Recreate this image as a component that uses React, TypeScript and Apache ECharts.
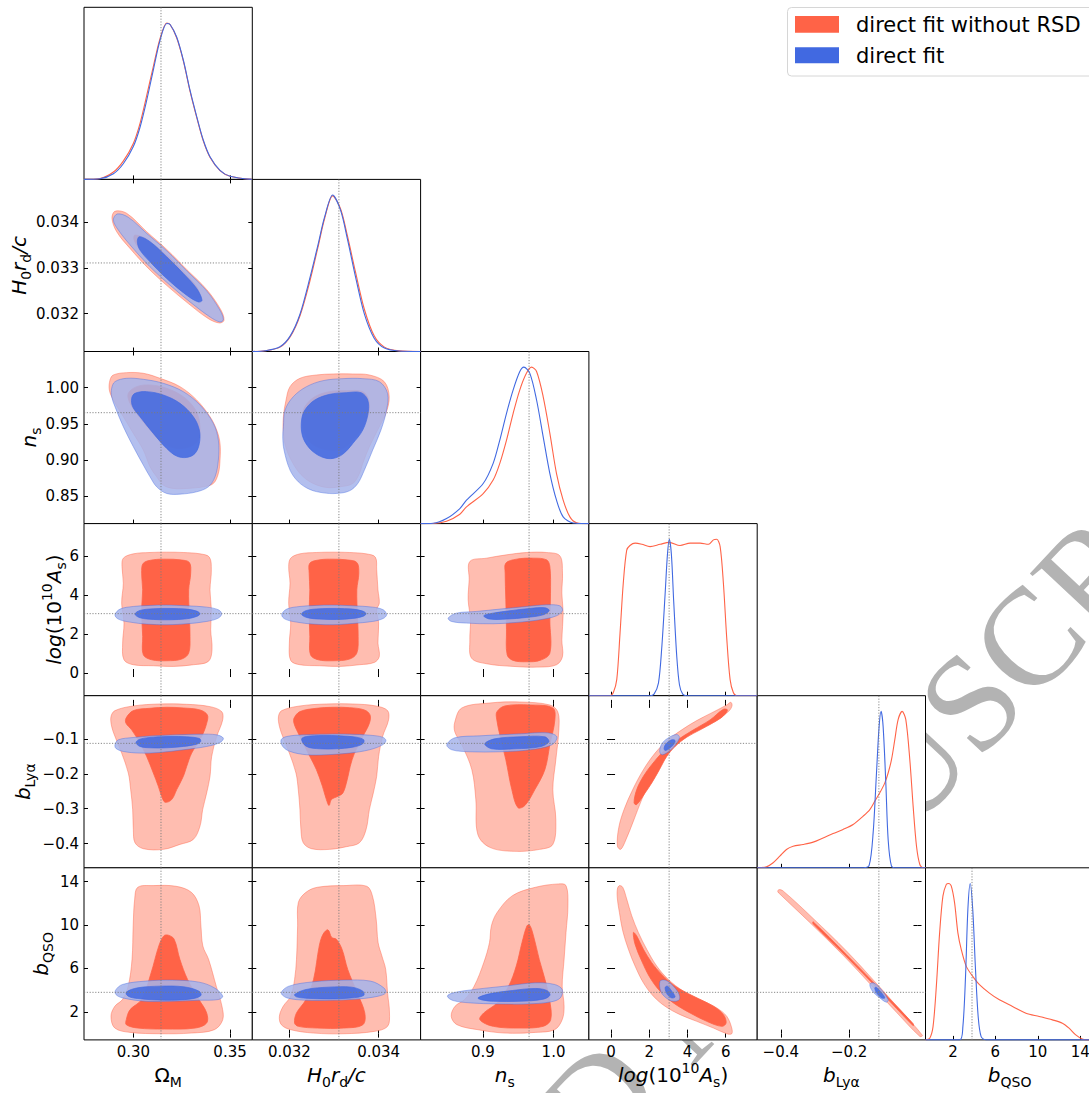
import React, { useEffect, useRef } from 'react';
import * as echarts from 'echarts';

type Pt = [number, number];

const FONT = 'DejaVu Sans';

// ---------- parameter axes (0: Ω_M, 1: H0 rd/c, 2: n_s, 3: log(10^10 A_s), 4: b_Lyα, 5: b_QSO)
const PARAM_MIN = [0.2745, 0.03117, 0.812, -1.16, -0.469, -0.58];
const PARAM_MAX = [0.3615, 0.03494, 1.05, 7.65, 0.0234, 15.27];
const FIDUCIAL = [0.3143, 0.03311, 0.9654, 3.04, -0.113, 3.8];
const DIAG_MAX = 1.1;

const X_TICKS_OM = [0.3, 0.35];
const X_LABELS_OM = ['0.30', '0.35'];
const X_TICKS_H = [0.032, 0.034];
const X_LABELS_H = ['0.032', '0.034'];
const X_TICKS_NS = [0.9, 1.0];
const X_LABELS_NS = ['0.9', '1.0'];
const X_TICKS_AS = [0, 2, 4, 6];
const X_LABELS_AS = ['0', '2', '4', '6'];
const X_TICKS_BL = [-0.4, -0.2];
const X_LABELS_BL = ['\u22120.4', '\u22120.2'];
const X_TICKS_BQ = [2, 6, 10, 14];
const X_LABELS_BQ = ['2', '6', '10', '14'];

const Y_TICKS_H = [0.032, 0.033, 0.034];
const Y_LABELS_H = ['0.032', '0.033', '0.034'];
const Y_TICKS_NS = [0.85, 0.9, 0.95, 1.0];
const Y_LABELS_NS = ['0.85', '0.90', '0.95', '1.00'];
const Y_TICKS_AS = [0, 2, 4, 6];
const Y_LABELS_AS = ['0', '2', '4', '6'];
const Y_TICKS_BL = [-0.4, -0.3, -0.2, -0.1];
const Y_LABELS_BL = ['\u22120.4', '\u22120.3', '\u22120.2', '\u22120.1'];
const Y_TICKS_BQ = [2, 6, 10, 14];
const Y_LABELS_BQ = ['2', '6', '10', '14'];

const AXIS_NAMES = [
  '{n|Ω}{sub|M}',
  '{i|H}{sub|0}{i|r}{sub|d}{i|/c}',
  '{i|n}{sub|s}',
  '{i|log}{n|(10}{sup|10}{i|A}{sub|s}{n|)}',
  '{i|b}{sub|Lyα}',
  '{i|b}{sub|QSO}',
];

const LEGEND_LABELS = ['direct fit without RSD', 'direct fit'];
const WATERMARK = 'ACCEPTED MANUSCRIPT';

// ---------- 1D marginals (normalised to peak = 1)
const OM_RED: Pt[] = [[0.2745, 0], [0.2828, 0.006], [0.2897, 0.047], [0.2948, 0.117], [0.3, 0.23], [0.3035, 0.36], [0.3069, 0.535], [0.3103, 0.72], [0.3138, 0.9], [0.3173, 1.0], [0.319, 0.99], [0.3224, 0.905], [0.3259, 0.755], [0.3293, 0.565], [0.3328, 0.395], [0.3362, 0.245], [0.3397, 0.14], [0.3448, 0.056], [0.35, 0.02], [0.3612, 0]];
const OM_BLUE: Pt[] = [[0.2745, 0], [0.2828, 0.004], [0.2897, 0.036], [0.2948, 0.1], [0.3, 0.21], [0.3035, 0.335], [0.3069, 0.505], [0.3103, 0.697], [0.3138, 0.889], [0.3173, 0.996], [0.319, 0.99], [0.3224, 0.91], [0.3259, 0.76], [0.3293, 0.57], [0.3328, 0.4], [0.3362, 0.25], [0.3397, 0.143], [0.3448, 0.058], [0.35, 0.02], [0.3612, 0]];

const H_RED: Pt[] = [[0.03117, 0], [0.03146, 0.005], [0.03179, 0.028], [0.03202, 0.095], [0.03224, 0.23], [0.03246, 0.45], [0.03264, 0.665], [0.03279, 0.85], [0.03297, 0.995], [0.03315, 0.91], [0.0333, 0.74], [0.03348, 0.51], [0.03368, 0.27], [0.0339, 0.1], [0.03413, 0.028], [0.03446, 0.004], [0.03494, 0]];
const H_BLUE: Pt[] = [[0.03117, 0], [0.03146, 0.005], [0.03179, 0.03], [0.03202, 0.1], [0.03224, 0.24], [0.03246, 0.47], [0.03264, 0.68], [0.03279, 0.86], [0.03297, 1.0], [0.03315, 0.9], [0.0333, 0.72], [0.03348, 0.48], [0.03368, 0.24], [0.0339, 0.085], [0.03413, 0.022], [0.03446, 0.003], [0.03494, 0]];

const NS_RED: Pt[] = [[0.812, 0], [0.8297, 0.001], [0.8487, 0.015], [0.8675, 0.06], [0.8769, 0.107], [0.9005, 0.192], [0.9146, 0.278], [0.924, 0.385], [0.9335, 0.534], [0.9429, 0.705], [0.9523, 0.855], [0.9618, 0.962], [0.9689, 1.0], [0.976, 0.972], [0.9853, 0.812], [0.9948, 0.577], [1.0042, 0.32], [1.0136, 0.15], [1.0231, 0.043], [1.0325, 0.006], [1.05, 0]];
const NS_BLUE: Pt[] = [[0.812, 0], [0.8297, 0.002], [0.8487, 0.032], [0.8675, 0.096], [0.8769, 0.15], [0.9005, 0.256], [0.9146, 0.385], [0.924, 0.534], [0.9335, 0.705], [0.9429, 0.855], [0.9523, 0.972], [0.958, 1.0], [0.9665, 0.96], [0.976, 0.79], [0.9853, 0.556], [0.9948, 0.32], [1.0042, 0.15], [1.0136, 0.043], [1.0278, 0.004], [1.05, 0]];

const AS_RED: Pt[] = [[-1.16, 0], [-0.05, 0], [0.12, 0.02], [0.3, 0.104], [0.47, 0.4], [0.64, 0.72], [0.82, 0.93], [0.99, 0.96], [1.26, 0.975], [1.61, 0.968], [2.04, 0.953], [2.57, 0.968], [3.05, 0.98], [3.61, 0.96], [4.14, 0.975], [4.66, 0.975], [5.1, 0.968], [5.36, 0.996], [5.53, 1.0], [5.71, 0.953], [5.88, 0.72], [6.06, 0.36], [6.23, 0.104], [6.4, 0.02], [6.58, 0], [7.65, 0]];
const AS_BLUE: Pt[] = [[-1.16, 0], [2.04, 0], [2.25, 0.01], [2.48, 0.08], [2.65, 0.3], [2.83, 0.65], [2.95, 0.9], [3.05, 1.0], [3.16, 0.9], [3.28, 0.6], [3.44, 0.25], [3.58, 0.07], [3.75, 0.01], [3.96, 0], [7.65, 0]];

const BL_RED: Pt[] = [[-0.469, 0], [-0.4419, 0.006], [-0.4224, 0.032], [-0.4029, 0.074], [-0.3834, 0.117], [-0.3639, 0.138], [-0.3347, 0.149], [-0.3054, 0.164], [-0.2762, 0.191], [-0.2469, 0.219], [-0.2177, 0.245], [-0.1884, 0.277], [-0.1591, 0.33], [-0.1395, 0.372], [-0.1249, 0.426], [-0.1103, 0.479], [-0.0956, 0.543], [-0.0859, 0.606], [-0.0761, 0.691], [-0.0664, 0.819], [-0.0567, 0.947], [-0.045, 1.0], [-0.0342, 0.947], [-0.0225, 0.691], [-0.0128, 0.394], [-0.0029, 0.138], [0.0068, 0.021], [0.0165, 0], [0.0234, 0]];
const BL_BLUE: Pt[] = [[-0.469, 0], [-0.1591, 0], [-0.1415, 0.015], [-0.1298, 0.223], [-0.12, 0.606], [-0.1123, 0.904], [-0.1065, 1.0], [-0.1006, 0.904], [-0.0927, 0.543], [-0.0859, 0.181], [-0.0761, 0.011], [-0.0614, 0], [0.0234, 0]];

const BQ_RED: Pt[] = [[-0.58, 0], [-0.18, 0.011], [0.13, 0.085], [0.44, 0.342], [0.75, 0.684], [1.06, 0.919], [1.38, 0.994], [1.6, 1.0], [1.85, 0.983], [2.16, 0.876], [2.47, 0.684], [2.79, 0.577], [3.26, 0.47], [3.87, 0.406], [4.5, 0.353], [5.44, 0.299], [6.38, 0.256], [7.62, 0.214], [8.88, 0.171], [10.13, 0.15], [11.37, 0.128], [12.31, 0.107], [12.94, 0.075], [13.57, 0.032], [14.18, 0.006], [14.72, 0], [15.27, 0]];
const BQ_BLUE: Pt[] = [[-0.58, 0], [2.63, 0], [2.94, 0.085], [3.19, 0.406], [3.41, 0.833], [3.63, 1.0], [3.87, 0.833], [4.13, 0.449], [4.38, 0.15], [4.66, 0.021], [5.13, 0], [15.27, 0]];

// ---------- 2D contours: [x, y] in data units. R2/R1 = red 95%/68%, B2/B1 = blue 95%/68%
const C10_R2: Pt[] = [[0.29052, 0.034242], [0.29655, 0.034198], [0.30689, 0.033795], [0.31724, 0.033407], [0.32758, 0.032967], [0.33792, 0.032527], [0.34516, 0.032088], [0.34688, 0.031853], [0.34447, 0.031795], [0.33878, 0.03189], [0.32844, 0.03222], [0.3181, 0.032586], [0.30776, 0.032989], [0.29828, 0.033428], [0.29138, 0.033795], [0.28897, 0.034088]];
const C10_R1: Pt[] = [[0.30086, 0.033722], [0.30689, 0.033626], [0.31724, 0.033282], [0.32585, 0.032916], [0.33275, 0.032586], [0.33447, 0.032366], [0.33275, 0.03233], [0.32672, 0.032454], [0.31724, 0.032806], [0.30862, 0.033172], [0.30259, 0.033451], [0.30034, 0.033626]];
const C10_B2: Pt[] = [[0.29173, 0.034183], [0.29741, 0.03411], [0.30689, 0.033758], [0.31724, 0.033377], [0.32758, 0.032938], [0.33792, 0.032498], [0.34481, 0.032073], [0.34654, 0.031868], [0.34481, 0.031817], [0.33964, 0.031927], [0.3293, 0.032256], [0.31896, 0.032623], [0.30862, 0.033026], [0.29914, 0.033465], [0.29224, 0.033832], [0.28966, 0.034051]];
const C10_B1: Pt[] = [[0.3031, 0.033685], [0.30862, 0.033575], [0.31724, 0.033245], [0.32585, 0.032879], [0.33275, 0.032549], [0.33551, 0.032293], [0.33361, 0.032256], [0.32758, 0.032403], [0.31724, 0.032769], [0.30862, 0.033136], [0.30345, 0.033392], [0.30207, 0.033575]];

const C20_R2: Pt[] = [[0.28966, 1.01754], [0.29655, 1.02078], [0.30517, 1.01985], [0.31379, 1.01293], [0.32413, 1.00139], [0.33275, 0.98292], [0.33964, 0.95983], [0.34309, 0.94137], [0.34481, 0.9229], [0.34481, 0.89982], [0.34395, 0.88135], [0.34137, 0.8675], [0.33619, 0.86288], [0.32758, 0.86057], [0.32068, 0.86057], [0.31551, 0.86519], [0.31206, 0.87673], [0.30862, 0.89058], [0.30517, 0.91367], [0.3, 0.93675], [0.29483, 0.95983], [0.28966, 0.98292], [0.28759, 0.99677], [0.28794, 1.01062]];
const C20_R1: Pt[] = [[0.29741, 0.99215], [0.30172, 1.00139], [0.30862, 1.00369], [0.31724, 0.99908], [0.32585, 0.98753], [0.33102, 0.97368], [0.33361, 0.95983], [0.33447, 0.94137], [0.33361, 0.92752], [0.3293, 0.91828], [0.32241, 0.91597], [0.31551, 0.9229], [0.30862, 0.94137], [0.30172, 0.96445], [0.29793, 0.98061]];
const C20_B2: Pt[] = [[0.2888, 0.99908], [0.29052, 1.00831], [0.29655, 1.01293], [0.30517, 1.01154], [0.31551, 1.006], [0.32585, 0.99446], [0.33447, 0.97599], [0.34137, 0.9506], [0.34395, 0.92752], [0.34395, 0.89982], [0.34223, 0.87673], [0.33878, 0.86288], [0.33275, 0.85596], [0.32413, 0.85272], [0.31724, 0.85365], [0.31206, 0.86288], [0.30862, 0.87673], [0.30517, 0.89289], [0.3, 0.91828], [0.29483, 0.94598], [0.29052, 0.97368], [0.2888, 0.98753]];
const C20_B1: Pt[] = [[0.29914, 0.98523], [0.30086, 0.99215], [0.30689, 0.99446], [0.31551, 0.98984], [0.32413, 0.9783], [0.33102, 0.95983], [0.33413, 0.94137], [0.33413, 0.9229], [0.33189, 0.90905], [0.32758, 0.90351], [0.32241, 0.90536], [0.31724, 0.91597], [0.31034, 0.93675], [0.30345, 0.95983], [0.29966, 0.97368]];

const C21_R2: Pt[] = [[0.032015, 1.00139], [0.032237, 1.01293], [0.032607, 1.01754], [0.032978, 1.01893], [0.033422, 1.01893], [0.033793, 1.01754], [0.034126, 1.00831], [0.034237, 0.98753], [0.034163, 0.96445], [0.034015, 0.94598], [0.033793, 0.91828], [0.033644, 0.8952], [0.03357, 0.88135], [0.033422, 0.8675], [0.033126, 0.86288], [0.03283, 0.86196], [0.032533, 0.8675], [0.032311, 0.87673], [0.032126, 0.89058], [0.031941, 0.91367], [0.031867, 0.93675], [0.031867, 0.95983], [0.031926, 0.98292]];
const C21_R1: Pt[] = [[0.032348, 0.97368], [0.03257, 0.98753], [0.032904, 0.99446], [0.033274, 0.99584], [0.033644, 0.99446], [0.033778, 0.98292], [0.033778, 0.96445], [0.033644, 0.94598], [0.033422, 0.92752], [0.0332, 0.91597], [0.032904, 0.91367], [0.032607, 0.91828], [0.032422, 0.92752], [0.032311, 0.94137], [0.032296, 0.95983]];
const C21_B2: Pt[] = [[0.031867, 0.94598], [0.031904, 0.96907], [0.032089, 0.98753], [0.032385, 1.00139], [0.032756, 1.0097], [0.0332, 1.01247], [0.033644, 1.01247], [0.034015, 1.00831], [0.034199, 0.99215], [0.034178, 0.96907], [0.034052, 0.94137], [0.033867, 0.91367], [0.033681, 0.88597], [0.033533, 0.8675], [0.033348, 0.85734], [0.033052, 0.85365], [0.032756, 0.85457], [0.032459, 0.85919], [0.0322, 0.86981], [0.032015, 0.88597], [0.031881, 0.91367], [0.031852, 0.93213]];
const C21_B1: Pt[] = [[0.032274, 0.95522], [0.032348, 0.96907], [0.03257, 0.98292], [0.032904, 0.99077], [0.033274, 0.99307], [0.033607, 0.99307], [0.033756, 0.98292], [0.033763, 0.96445], [0.033644, 0.94137], [0.033422, 0.9229], [0.0332, 0.90813], [0.032978, 0.90212], [0.032756, 0.90351], [0.032533, 0.91136], [0.03237, 0.9229], [0.032281, 0.93675]];

const C30_R2: Pt[] = [[0.29483, 5.881], [0.3, 6.102], [0.30862, 6.171], [0.31724, 6.188], [0.32585, 6.171], [0.33447, 6.102], [0.3393, 5.932], [0.34033, 5.284], [0.33964, 4.261], [0.34033, 3.238], [0.33999, 2.215], [0.34068, 1.192], [0.33878, 0.595], [0.33102, 0.425], [0.32068, 0.339], [0.31034, 0.373], [0.3, 0.425], [0.29517, 0.68], [0.29448, 1.533], [0.29517, 2.556], [0.29397, 3.579], [0.29483, 4.602], [0.29414, 5.454]];
const C30_R1: Pt[] = [[0.30517, 5.625], [0.31034, 5.795], [0.31724, 5.829], [0.32413, 5.795], [0.32896, 5.659], [0.32965, 5.113], [0.32861, 4.261], [0.32896, 2.897], [0.3293, 1.874], [0.32861, 1.021], [0.32499, 0.714], [0.31724, 0.629], [0.30948, 0.68], [0.30517, 0.936], [0.30483, 1.874], [0.30431, 3.238], [0.30483, 4.261], [0.30431, 5.113]];
const C30_B2: Pt[] = [[0.29052, 2.982], [0.29311, 3.272], [0.3, 3.408], [0.30862, 3.46], [0.31724, 3.477], [0.32758, 3.442], [0.33792, 3.374], [0.34395, 3.238], [0.34567, 3.033], [0.34395, 2.812], [0.33792, 2.641], [0.32758, 2.522], [0.31724, 2.471], [0.3069, 2.505], [0.29828, 2.607], [0.29224, 2.76]];
const C30_B1: Pt[] = [[0.30086, 3.016], [0.30345, 3.204], [0.31034, 3.289], [0.31896, 3.306], [0.32758, 3.272], [0.33275, 3.17], [0.33447, 3.033], [0.33275, 2.897], [0.32758, 2.778], [0.31896, 2.726], [0.31034, 2.743], [0.30345, 2.829]];

const C31_R2: Pt[] = [[0.03203, 5.881], [0.032237, 6.102], [0.032607, 6.171], [0.032978, 6.188], [0.033348, 6.171], [0.033719, 6.102], [0.033926, 5.932], [0.033956, 5.284], [0.033985, 4.261], [0.034015, 3.579], [0.033956, 3.238], [0.034, 2.556], [0.033985, 1.533], [0.034015, 0.851], [0.033904, 0.544], [0.03357, 0.425], [0.033126, 0.339], [0.032681, 0.373], [0.032237, 0.425], [0.03203, 0.646], [0.032, 1.533], [0.03203, 2.556], [0.031985, 3.579], [0.032015, 4.602], [0.031985, 5.454]];
const C31_R1: Pt[] = [[0.032459, 5.625], [0.032681, 5.795], [0.032978, 5.829], [0.033274, 5.795], [0.033511, 5.659], [0.033556, 5.113], [0.033511, 4.261], [0.033526, 2.897], [0.033541, 1.874], [0.033511, 1.021], [0.033348, 0.714], [0.032978, 0.629], [0.032644, 0.68], [0.032474, 0.936], [0.032459, 1.874], [0.032444, 3.238], [0.032459, 4.261], [0.032444, 5.113]];
const C31_B2: Pt[] = [[0.03183, 2.982], [0.031941, 3.272], [0.032237, 3.408], [0.032607, 3.46], [0.032978, 3.477], [0.033422, 3.442], [0.033867, 3.374], [0.034104, 3.238], [0.034178, 2.982], [0.034104, 2.795], [0.033867, 2.641], [0.033422, 2.539], [0.032978, 2.471], [0.032533, 2.505], [0.032163, 2.607], [0.031904, 2.76]];
const C31_B1: Pt[] = [[0.032274, 3.016], [0.032385, 3.204], [0.032681, 3.289], [0.033052, 3.306], [0.033422, 3.272], [0.033644, 3.17], [0.033719, 3.033], [0.033644, 2.897], [0.033422, 2.795], [0.033052, 2.743], [0.032681, 2.76], [0.032385, 2.846]];

const C32_R2: Pt[] = [[0.88161, 5.71], [0.90519, 5.881], [0.93347, 6.051], [0.96176, 6.171], [0.99005, 6.171], [1.00891, 6.0], [1.01268, 5.113], [1.01174, 4.09], [1.01362, 3.067], [1.01174, 1.703], [1.01268, 0.851], [1.0042, 0.425], [0.98062, 0.305], [0.9429, 0.339], [0.90519, 0.476], [0.88397, 0.766], [0.88161, 1.703], [0.88256, 2.726], [0.87926, 3.749], [0.88067, 4.772]];
const C32_R1: Pt[] = [[0.93253, 5.625], [0.94762, 5.829], [0.97119, 5.881], [0.99005, 5.795], [0.99477, 5.454], [0.99571, 4.09], [0.99477, 2.726], [0.99477, 1.021], [0.98062, 0.646], [0.96176, 0.578], [0.9429, 0.646], [0.93442, 0.936], [0.93347, 2.215], [0.93253, 3.749], [0.93159, 5.113]];
const C32_B2: Pt[] = [[0.85097, 2.812], [0.86275, 3.067], [0.89104, 3.153], [0.92404, 3.272], [0.96176, 3.408], [0.99005, 3.494], [1.00891, 3.442], [1.01268, 3.204], [1.0042, 2.931], [0.98062, 2.726], [0.94762, 2.59], [0.91462, 2.522], [0.8769, 2.556], [0.85568, 2.641]];
const C32_B1: Pt[] = [[0.90141, 2.931], [0.91462, 3.067], [0.93819, 3.187], [0.96648, 3.306], [0.98769, 3.34], [0.99382, 3.204], [0.98534, 2.982], [0.96176, 2.846], [0.93347, 2.761], [0.9099, 2.761]];

const C40_R2: Pt[] = [[0.28845, -0.03637], [0.29052, -0.01928], [0.3, -0.00598], [0.31379, -0.00028], [0.32758, -0.00123], [0.33964, -0.00788], [0.34567, -0.02213], [0.34619, -0.04587], [0.34309, -0.09335], [0.3405, -0.15033], [0.33964, -0.20731], [0.33792, -0.2548], [0.33585, -0.30228], [0.33447, -0.34976], [0.33102, -0.38775], [0.32413, -0.40199], [0.31551, -0.41624], [0.30517, -0.41434], [0.30086, -0.39725], [0.3, -0.35926], [0.29966, -0.30228], [0.29862, -0.2453], [0.29741, -0.19782], [0.29397, -0.14084], [0.29052, -0.09335], [0.2888, -0.06486]];
const C40_R1: Pt[] = [[0.29621, -0.04112], [0.3, -0.01928], [0.30862, -0.01263], [0.31724, -0.00978], [0.32585, -0.01168], [0.33447, -0.01738], [0.33826, -0.03162], [0.33792, -0.05537], [0.33533, -0.09335], [0.33016, -0.14084], [0.32758, -0.17882], [0.32585, -0.20731], [0.32241, -0.2453], [0.31982, -0.27379], [0.31637, -0.28139], [0.31465, -0.26429], [0.31293, -0.2358], [0.31034, -0.19782], [0.30689, -0.15033], [0.30345, -0.11235], [0.29914, -0.07436], [0.29621, -0.05537]];
const C40_B2: Pt[] = [[0.29052, -0.11709], [0.29224, -0.10285], [0.3, -0.0962], [0.31034, -0.09145], [0.32241, -0.0886], [0.33447, -0.0867], [0.34309, -0.0886], [0.34654, -0.0981], [0.34481, -0.11045], [0.33792, -0.12184], [0.32585, -0.13134], [0.31379, -0.13894], [0.30345, -0.14084], [0.29483, -0.13609], [0.29104, -0.12754]];
const C40_B1: Pt[] = [[0.30138, -0.11045], [0.30345, -0.10095], [0.31034, -0.09525], [0.31896, -0.09335], [0.32758, -0.0943], [0.33413, -0.09905], [0.33482, -0.1076], [0.33275, -0.1152], [0.32585, -0.12184], [0.31724, -0.12564], [0.30862, -0.12564], [0.30345, -0.12184]];

const C41_R2: Pt[] = [[0.031756, -0.03637], [0.03183, -0.01928], [0.032237, -0.00598], [0.03283, -0.00028], [0.033422, -0.00028], [0.033941, -0.00598], [0.0342, -0.01928], [0.034222, -0.04587], [0.034089, -0.09335], [0.034, -0.15033], [0.033956, -0.20731], [0.033881, -0.2548], [0.033793, -0.30228], [0.033719, -0.35926], [0.03357, -0.39725], [0.033274, -0.40864], [0.032904, -0.41624], [0.032496, -0.41434], [0.032311, -0.39725], [0.032259, -0.35926], [0.032237, -0.30228], [0.0322, -0.2453], [0.032148, -0.19782], [0.032, -0.14084], [0.031852, -0.09335], [0.031778, -0.06486]];
const C41_R1: Pt[] = [[0.032104, -0.04112], [0.032237, -0.02213], [0.032607, -0.01263], [0.032978, -0.00978], [0.033348, -0.01073], [0.033681, -0.01738], [0.033807, -0.03162], [0.033793, -0.05537], [0.033644, -0.09335], [0.033459, -0.14084], [0.033363, -0.17882], [0.033296, -0.21681], [0.0332, -0.2548], [0.033089, -0.26429], [0.032941, -0.27379], [0.032889, -0.29088], [0.03283, -0.27379], [0.032741, -0.2358], [0.032607, -0.18832], [0.032459, -0.15033], [0.032311, -0.11235], [0.032163, -0.07436], [0.032104, -0.05537]];
const C41_B2: Pt[] = [[0.031815, -0.10285], [0.031941, -0.09335], [0.032311, -0.0886], [0.03283, -0.0867], [0.033348, -0.0867], [0.033793, -0.08955], [0.034089, -0.09525], [0.034163, -0.10475], [0.034089, -0.11709], [0.033793, -0.13134], [0.033348, -0.14084], [0.03283, -0.14558], [0.032385, -0.14558], [0.032015, -0.13609], [0.031852, -0.12184]];
const C41_B1: Pt[] = [[0.032274, -0.1009], [0.032385, -0.09335], [0.032756, -0.0905], [0.033126, -0.09145], [0.033496, -0.09525], [0.033667, -0.10285], [0.033644, -0.11425], [0.033422, -0.12374], [0.033052, -0.12849], [0.032681, -0.12849], [0.032385, -0.12184]];

const C42_R2: Pt[] = [[0.8604, -0.05157], [0.8703, -0.01168], [0.9099, 0.00256], [0.95233, 0.00541], [0.99477, -0.00313], [1.00608, -0.02308], [1.0075, -0.07436], [1.00325, -0.15983], [0.99901, -0.2453], [1.00325, -0.33077], [0.99901, -0.40199], [0.98062, -0.41624], [0.94526, -0.42194], [0.9099, -0.41054], [0.89293, -0.3735], [0.8901, -0.27379], [0.88444, -0.18832], [0.8703, -0.11709], [0.8604, -0.08006]];
const C42_R1: Pt[] = [[0.9198, -0.02308], [0.93112, -0.00598], [0.96648, -0.00313], [0.99901, -0.01168], [1.00184, -0.04587], [0.99477, -0.11709], [0.98769, -0.18832], [0.97355, -0.2453], [0.95941, -0.29088], [0.9495, -0.29658], [0.94102, -0.2453], [0.93253, -0.15983], [0.92405, -0.0886], [0.9198, -0.04587]];
const C42_B2: Pt[] = [[0.84908, -0.11709], [0.8604, -0.09715], [0.89576, -0.09145], [0.95233, -0.08575], [0.99194, -0.08291], [1.00467, -0.0943], [0.99759, -0.11709], [0.96648, -0.13134], [0.92405, -0.13704], [0.88161, -0.13704], [0.85615, -0.13134]];
const C42_B1: Pt[] = [[0.90283, -0.11425], [0.91697, -0.1], [0.95233, -0.0943], [0.98769, -0.0943], [0.99335, -0.10855], [0.98062, -0.12279], [0.94526, -0.12849], [0.91273, -0.12849]];

const C43_R2: Pt[] = [[0.3316, -0.40674], [0.4014, -0.35451], [0.6806, -0.30228], [1.1344, -0.2453], [1.6928, -0.18832], [2.3037, -0.14084], [2.9494, -0.10475], [3.6998, -0.07436], [4.4852, -0.04777], [5.3578, -0.02308], [6.0558, -0.00313], [6.2653, 0.00446], [6.3351, -0.00408], [6.1955, -0.01928], [5.7941, -0.03637], [5.445, -0.05062], [4.8342, -0.06486], [4.1361, -0.08386], [3.5253, -0.10475], [3.0017, -0.13324], [2.5654, -0.16933], [2.0768, -0.21681], [1.6056, -0.27379], [1.1693, -0.33552], [0.7853, -0.38775], [0.5061, -0.41624]];
const C43_R1: Pt[] = [[1.2042, -0.28328], [1.3438, -0.2453], [1.6928, -0.20731], [2.1291, -0.17407], [2.74, -0.13609], [3.438, -0.10475], [4.3106, -0.07436], [5.1832, -0.04587], [5.8813, -0.01548], [6.0908, -0.01738], [5.8813, -0.03447], [5.3578, -0.05347], [4.6597, -0.07436], [3.9616, -0.09525], [3.3508, -0.12184], [2.9145, -0.15033], [2.5305, -0.18832], [2.1291, -0.2263], [1.7801, -0.2548], [1.3438, -0.28803]];
const C43_B2: Pt[] = [[2.5654, -0.12659], [2.7051, -0.11045], [3.0541, -0.09525], [3.438, -0.08765], [3.5777, -0.09525], [3.438, -0.11235], [3.089, -0.13324], [2.7051, -0.14558], [2.5654, -0.14084]];
const C43_B1: Pt[] = [[2.7749, -0.12659], [2.8796, -0.11425], [3.1763, -0.10285], [3.3508, -0.10475], [3.2635, -0.11709], [3.0017, -0.12944], [2.8272, -0.13324]];

const C50_R2: Pt[] = [[0.28845, 1.5926], [0.29043, 2.5185], [0.29438, 3.1358], [0.29735, 4.3704], [0.29933, 6.8395], [0.29992, 9.9259], [0.30071, 12.395], [0.30229, 13.475], [0.31021, 13.63], [0.32208, 13.568], [0.33, 13.012], [0.33395, 11.778], [0.33494, 9.9259], [0.33593, 8.0741], [0.3389, 6.8395], [0.34286, 4.3704], [0.34582, 2.5185], [0.34622, 1.284], [0.34187, 0.358], [0.33, 0.0494], [0.31417, -0.0123], [0.29834, 0.1111], [0.29043, 0.5123]];
const C50_R1: Pt[] = [[0.29636, 1.284], [0.29834, 2.2099], [0.30427, 3.1358], [0.30922, 5.6049], [0.31318, 8.0741], [0.31575, 9.0], [0.31812, 9.0617], [0.3211, 8.6914], [0.32406, 6.8395], [0.32802, 4.9877], [0.33395, 3.1358], [0.33791, 1.9012], [0.33791, 0.9753], [0.33198, 0.5123], [0.31615, 0.4198], [0.30229, 0.5123], [0.29636, 0.821]];
const C50_B2: Pt[] = [[0.29082, 4.0], [0.29438, 4.5247], [0.30625, 4.8333], [0.3201, 4.9259], [0.33395, 4.7407], [0.34187, 4.216], [0.34622, 3.4444], [0.34385, 3.1358], [0.33395, 3.0741], [0.3201, 2.9815], [0.30625, 2.9815], [0.29438, 3.2901], [0.29102, 3.5988]];
const C50_B1: Pt[] = [[0.29636, 3.8148], [0.30229, 4.216], [0.31417, 4.3704], [0.32604, 4.3086], [0.33395, 3.9074], [0.33494, 3.5062], [0.33, 3.1975], [0.31615, 3.0741], [0.30229, 3.2284], [0.29735, 3.4444]];

const C51_R2: Pt[] = [[0.031777, 1.5926], [0.031862, 2.5185], [0.032032, 3.4444], [0.032117, 4.9877], [0.03216, 6.8395], [0.032185, 9.9259], [0.032202, 12.086], [0.032372, 13.012], [0.032627, 13.475], [0.033222, 13.63], [0.033733, 13.568], [0.03386, 12.704], [0.033945, 10.543], [0.033988, 8.3827], [0.034073, 7.1481], [0.034158, 5.9136], [0.0342, 3.7531], [0.034243, 1.9012], [0.0342, 0.6667], [0.033903, 0.2037], [0.033222, -0.0123], [0.032542, 0.0494], [0.032032, 0.358], [0.03182, 0.821]];
const C51_R1: Pt[] = [[0.032117, 0.9753], [0.03216, 1.9012], [0.032372, 3.1358], [0.032542, 4.9877], [0.03267, 8.0741], [0.032755, 9.1543], [0.032865, 9.5556], [0.03295, 8.8457], [0.033052, 8.6914], [0.03318, 7.7654], [0.033307, 5.9136], [0.033519, 3.7531], [0.033689, 1.9012], [0.033647, 0.821], [0.033222, 0.5123], [0.032627, 0.5123], [0.032202, 0.6667]];
const C51_B2: Pt[] = [[0.03182, 3.7531], [0.03199, 4.3704], [0.032542, 4.7716], [0.033222, 4.9259], [0.033818, 4.8333], [0.034115, 4.216], [0.034158, 3.7531], [0.033988, 3.4444], [0.033562, 3.1975], [0.032967, 3.0741], [0.032372, 3.0741], [0.031947, 3.2901]];
const C51_B1: Pt[] = [[0.032117, 3.5988], [0.032372, 4.0617], [0.032882, 4.2778], [0.033392, 4.2778], [0.033647, 3.9074], [0.033664, 3.5062], [0.033392, 3.2901], [0.032882, 3.1975], [0.032372, 3.2593], [0.03216, 3.3827]];

const C52_R2: Pt[] = [[0.8553, 1.5926], [0.86071, 2.5185], [0.87424, 3.1358], [0.88777, 4.3704], [0.9013, 6.5309], [0.90942, 8.3827], [0.91212, 9.9259], [0.92024, 11.16], [0.94188, 12.704], [0.97435, 13.475], [1.00682, 13.784], [1.01764, 13.63], [1.02035, 11.778], [1.01764, 9.3086], [1.01494, 6.8395], [1.01223, 4.3704], [1.01494, 2.5185], [1.01223, 1.284], [1.00141, 0.358], [0.97435, 0.1111], [0.93106, 0.0494], [0.89318, 0.358], [0.86342, 0.821]];
const C52_R1: Pt[] = [[0.89589, 1.284], [0.9013, 1.9012], [0.92024, 2.8272], [0.93647, 4.3704], [0.94729, 6.2222], [0.95541, 8.3827], [0.96245, 9.9259], [0.96623, 9.9877], [0.97165, 9.0], [0.97976, 6.8395], [0.98788, 4.9877], [0.99437, 3.1358], [0.99599, 1.284], [0.98517, 0.6667], [0.9527, 0.5123], [0.91483, 0.6667]];
const C52_B2: Pt[] = [[0.8499, 3.4444], [0.85801, 3.7531], [0.88777, 4.0617], [0.93106, 4.3704], [0.97435, 4.679], [1.00141, 4.5247], [1.01223, 4.0617], [1.00953, 3.2901], [0.99599, 2.9198], [0.96353, 2.7346], [0.92024, 2.7346], [0.88236, 2.8272], [0.85801, 3.0432]];
const C52_B1: Pt[] = [[0.89318, 3.2901], [0.90942, 3.6605], [0.94188, 3.9691], [0.97435, 4.1543], [0.99058, 3.9691], [0.99491, 3.537], [0.98517, 3.1667], [0.9527, 2.9815], [0.91483, 2.9815], [0.89859, 3.1049]];

const C53_R2: Pt[] = [[0.3316, 13.321], [0.4363, 13.63], [0.6108, 13.475], [0.8202, 12.395], [1.082, 10.852], [1.4311, 9.3086], [1.8674, 7.7654], [2.3909, 6.2222], [3.0017, 4.9877], [3.7871, 3.9074], [4.6597, 3.1358], [5.5323, 2.3642], [6.0558, 1.5926], [6.3176, 0.5123], [6.3176, -0.0123], [6.0558, -0.0123], [5.3578, 0.5123], [4.4852, 1.1296], [3.6126, 1.7469], [2.8272, 2.5185], [2.2164, 3.4444], [1.6928, 4.679], [1.2565, 6.2222], [0.9075, 7.7654], [0.6108, 9.463], [0.4363, 11.16], [0.3316, 12.395]];
const C53_R1: Pt[] = [[1.1693, 9.3086], [1.3438, 9.0], [1.6928, 7.7654], [2.1291, 6.5309], [2.6527, 5.4506], [3.3508, 4.3704], [4.3106, 3.4444], [5.3578, 2.5185], [5.8813, 1.7469], [6.0209, 0.9753], [5.7941, 0.6667], [5.0087, 1.1296], [4.1361, 1.9012], [3.2635, 2.8272], [2.5654, 3.9074], [2.0419, 5.142], [1.6056, 6.6852], [1.2565, 8.2284]];
const C53_B2: Pt[] = [[2.5654, 4.8333], [2.8272, 4.9259], [3.1763, 4.5247], [3.5253, 3.7531], [3.5777, 3.1358], [3.2635, 2.9815], [2.8796, 3.2901], [2.6003, 3.9074]];
const C53_B1: Pt[] = [[2.8272, 4.216], [2.9494, 4.3704], [3.1763, 3.9074], [3.3508, 3.3827], [3.1763, 3.2901], [2.9494, 3.5988]];

const C54_R2: Pt[] = [[-0.40585, 13.259], [-0.39317, 13.136], [-0.30538, 10.605], [-0.20783, 7.6111], [-0.12003, 4.6173], [-0.05175, 2.2099], [0.01459, -0.1667], [0.00679, -0.2593], [-0.0615, 1.963], [-0.12979, 4.2778], [-0.21758, 7.2099], [-0.31513, 10.235], [-0.40293, 12.858], [-0.40878, 13.074]];
const C54_R1: Pt[] = [[-0.30538, 10.296], [-0.20783, 7.2716], [-0.11028, 4.1235], [-0.01273, 0.9136], [-0.01273, 0.7284], [-0.11028, 3.9383], [-0.20783, 7.0864], [-0.30538, 10.111]];
const C54_B2: Pt[] = [[-0.13954, 4.5247], [-0.12979, 4.679], [-0.11028, 4.216], [-0.08589, 3.1358], [-0.09077, 2.8889], [-0.11028, 3.2901], [-0.13174, 3.9074]];
const C54_B1: Pt[] = [[-0.12491, 4.216], [-0.12003, 4.2469], [-0.1054, 3.7531], [-0.09565, 3.2901], [-0.1054, 3.2901], [-0.12003, 3.7531]];

// ---------- tables built from the arrays above
const X_TICKS = [X_TICKS_OM, X_TICKS_H, X_TICKS_NS, X_TICKS_AS, X_TICKS_BL, X_TICKS_BQ];
const X_LABELS = [X_LABELS_OM, X_LABELS_H, X_LABELS_NS, X_LABELS_AS, X_LABELS_BL, X_LABELS_BQ];
const Y_TICKS = [[], Y_TICKS_H, Y_TICKS_NS, Y_TICKS_AS, Y_TICKS_BL, Y_TICKS_BQ];
const Y_LABELS = [[], Y_LABELS_H, Y_LABELS_NS, Y_LABELS_AS, Y_LABELS_BL, Y_LABELS_BQ];

const PANELS_1D = [
  { red: OM_RED, blue: OM_BLUE },
  { red: H_RED, blue: H_BLUE },
  { red: NS_RED, blue: NS_BLUE },
  { red: AS_RED, blue: AS_BLUE },
  { red: BL_RED, blue: BL_BLUE },
  { red: BQ_RED, blue: BQ_BLUE },
];

const PANELS_2D: Record<string, Pt[][]> = {
  '1-0': [C10_R2, C10_R1, C10_B2, C10_B1],
  '2-0': [C20_R2, C20_R1, C20_B2, C20_B1],
  '2-1': [C21_R2, C21_R1, C21_B2, C21_B1],
  '3-0': [C30_R2, C30_R1, C30_B2, C30_B1],
  '3-1': [C31_R2, C31_R1, C31_B2, C31_B1],
  '3-2': [C32_R2, C32_R1, C32_B2, C32_B1],
  '4-0': [C40_R2, C40_R1, C40_B2, C40_B1],
  '4-1': [C41_R2, C41_R1, C41_B2, C41_B1],
  '4-2': [C42_R2, C42_R1, C42_B2, C42_B1],
  '4-3': [C43_R2, C43_R1, C43_B2, C43_B1],
  '5-0': [C50_R2, C50_R1, C50_B2, C50_B1],
  '5-1': [C51_R2, C51_R1, C51_B2, C51_B1],
  '5-2': [C52_R2, C52_R1, C52_B2, C52_B1],
  '5-3': [C53_R2, C53_R1, C53_B2, C53_B1],
  '5-4': [C54_R2, C54_R1, C54_B2, C54_B1],
};

// ---------- styling / layout
const RED_LINE = '#ff6347';
const BLUE_LINE = '#4169e1';
const CONTOUR_STYLES = [
  { fill: '#ffbdb0', stroke: 'rgba(255,99,71,0.55)', opacity: 1 },
  { fill: '#ff6347', stroke: '#ff6347', opacity: 1 },
  { fill: '#a6b4eb', stroke: 'rgba(65,105,225,0.6)', opacity: 0.85 },
  { fill: '#4169e1', stroke: '#4169e1', opacity: 0.85 },
];
const GRID_LEFT = 84;
const GRID_TOP = 7.3;
const CELL_W = 168.3;
const CELL_H = 172.1;
const X_NAME_GAP = 21;
const Y_NAME_GAPS = [0, 51, 41, 16, 47, 29];

const RICH = {
  n: { fontFamily: FONT, fontSize: 20, lineHeight: 28, color: '#000' },
  i: { fontFamily: FONT, fontSize: 20, fontStyle: 'italic', lineHeight: 28, color: '#000' },
  sub: { fontFamily: FONT, fontSize: 14, lineHeight: 14, verticalAlign: 'bottom', color: '#000' },
  sup: { fontFamily: FONT, fontSize: 14, lineHeight: 14, verticalAlign: 'top', color: '#000' },
};

function tickFormatter(ticks: number[], labels: string[]) {
  return (v: number) => {
    let best = -1;
    let bd = Infinity;
    ticks.forEach((t, i) => {
      const d = Math.abs(t - v);
      if (d < bd) { bd = d; best = i; }
    });
    return best >= 0 && bd <= Math.abs(ticks[best]) * 1e-6 + 1e-9 ? labels[best] : '';
  };
}

function axisOpt(kind: 'x' | 'y', p: number, gridIndex: number, position: string, labeled: boolean) {
  const ticks = kind === 'x' ? X_TICKS[p] : Y_TICKS[p];
  const labels = kind === 'x' ? X_LABELS[p] : Y_LABELS[p];
  const o: any = {
    type: 'value',
    gridIndex,
    position,
    min: PARAM_MIN[p],
    max: PARAM_MAX[p],
    axisLine: { show: false },
    splitLine: { show: false },
    splitArea: { show: false },
    axisTick: { show: true, inside: true, length: 4, lineStyle: { color: '#000', width: 1 }, customValues: ticks },
    axisLabel: {
      show: labeled,
      customValues: ticks,
      formatter: tickFormatter(ticks, labels),
      margin: 5,
      fontFamily: FONT,
      fontSize: 15,
      color: '#000',
      hideOverlap: false,
    },
    axisPointer: { show: false },
  };
  if (labeled) {
    o.name = AXIS_NAMES[p];
    o.nameLocation = 'middle';
    o.nameGap = kind === 'x' ? X_NAME_GAP : Y_NAME_GAPS[p];
    o.nameRotate = kind === 'x' ? 0 : 90;
    o.nameMoveOverlap = false;
    o.nameTextStyle = { rich: RICH, fontFamily: FONT, fontSize: 20, lineHeight: 28, color: '#000' };
  }
  return o;
}

function polySeries(pts: Pt[], xi: number, yi: number, st: any) {
  return {
    type: 'custom',
    xAxisIndex: xi,
    yAxisIndex: yi,
    silent: true,
    clip: true,
    z: 2,
    data: [pts[0]],
    renderItem: (_params: any, api: any) => ({
      type: 'polygon',
      shape: { points: pts.map((p) => api.coord(p)), smooth: 0.35 },
      style: { fill: st.fill, stroke: st.stroke, lineWidth: 0.8, opacity: st.opacity },
    }),
  };
}

function curveSeries(name: string, pts: Pt[], xi: number, yi: number, color: string) {
  return {
    type: 'line',
    name,
    xAxisIndex: xi,
    yAxisIndex: yi,
    data: pts,
    symbol: 'none',
    showSymbol: false,
    smooth: 0.3,
    silent: true,
    z: 3,
    lineStyle: { color, width: 1.1 },
    itemStyle: { color },
  };
}

function dottedSeries(pts: Pt[], xi: number, yi: number) {
  return {
    type: 'line',
    xAxisIndex: xi,
    yAxisIndex: yi,
    data: pts,
    symbol: 'none',
    showSymbol: false,
    silent: true,
    z: 4,
    lineStyle: { color: '#7c7c7c', width: 0.9, type: [1.2, 1.6] },
  };
}

function buildOption() {
  const grid: any[] = [];
  const xAxis: any[] = [];
  const yAxis: any[] = [];
  const series: any[] = [];
  for (let r = 0; r < 6; r++) {
    for (let c = 0; c <= r; c++) {
      const g = grid.length;
      grid.push({
        left: GRID_LEFT + c * CELL_W,
        top: GRID_TOP + r * CELL_H,
        width: CELL_W,
        height: CELL_H,
        show: true,
        backgroundColor: '#ffffff',
        borderColor: '#000',
        borderWidth: 1,
        containLabel: false,
        outerBoundsMode: 'none',
      });
      const xi = xAxis.length;
      xAxis.push(axisOpt('x', c, g, 'bottom', r === 5));
      const yi = yAxis.length;
      if (r === c) {
        yAxis.push({ type: 'value', gridIndex: g, min: 0, max: DIAG_MAX, show: false, splitLine: { show: false } });
        const d = PANELS_1D[r];
        series.push(curveSeries(LEGEND_LABELS[0], d.red, xi, yi, RED_LINE));
        series.push(curveSeries(LEGEND_LABELS[1], d.blue, xi, yi, BLUE_LINE));
        series.push(dottedSeries([[FIDUCIAL[c], 0], [FIDUCIAL[c], DIAG_MAX]], xi, yi));
      } else {
        xAxis.push(axisOpt('x', c, g, 'top', false));
        yAxis.push(axisOpt('y', r, g, 'left', c === 0));
        yAxis.push(axisOpt('y', r, g, 'right', false));
        const contours = PANELS_2D[r + '-' + c];
        contours.forEach((pts, k) => series.push(polySeries(pts, xi, yi, CONTOUR_STYLES[k])));
        series.push(dottedSeries([[FIDUCIAL[c], PARAM_MIN[r]], [FIDUCIAL[c], PARAM_MAX[r]]], xi, yi));
        series.push(dottedSeries([[PARAM_MIN[c], FIDUCIAL[r]], [PARAM_MAX[c], FIDUCIAL[r]]], xi, yi));
      }
    }
  }

  const graphic = [
    {
      type: 'text',
      z: -10,
      silent: true,
      x: 705,
      y: 986,
      rotation: (47 * Math.PI) / 180,
      style: {
        text: WATERMARK,
        fontFamily: 'Liberation Serif',
        fontSize: 138,
        fill: '#b3b3b3',
        align: 'center',
        verticalAlign: 'middle',
      },
    },
    {
      type: 'rect',
      z: 20,
      silent: true,
      shape: { x: 787.5, y: 7.5, width: 340, height: 68.5, r: 4 },
      style: { fill: 'rgba(255,255,255,0.85)', stroke: '#d6d6d6', lineWidth: 1 },
    },
    {
      type: 'rect',
      z: 21,
      silent: true,
      shape: { x: 795, y: 16, width: 44, height: 16.7 },
      style: { fill: RED_LINE },
    },
    {
      type: 'rect',
      z: 21,
      silent: true,
      shape: { x: 795, y: 47.3, width: 44, height: 16 },
      style: { fill: BLUE_LINE },
    },
    {
      type: 'text',
      z: 21,
      silent: true,
      x: 856,
      y: 25.4,
      style: { text: LEGEND_LABELS[0], fontFamily: FONT, fontSize: 21, fill: '#000', align: 'left', verticalAlign: 'middle' },
    },
    {
      type: 'text',
      z: 21,
      silent: true,
      x: 856,
      y: 56,
      style: { text: LEGEND_LABELS[1], fontFamily: FONT, fontSize: 21, fill: '#000', align: 'left', verticalAlign: 'middle' },
    },
  ];

  return {
    animation: false,
    backgroundColor: '#ffffff',
    tooltip: { show: false },
    grid,
    xAxis,
    yAxis,
    series,
    graphic,
  };
}

export default function App() {
  const ref = useRef<HTMLDivElement>(null);
  useEffect(() => {
    if (!ref.current) return;
    document.body.style.margin = '0';
    const chart = echarts.init(ref.current, null, { renderer: 'svg', width: 1089, height: 1093 });
    chart.setOption(buildOption() as any);
    return () => {
      chart.dispose();
    };
  }, []);
  return (
    <div
      ref={ref}
      style={{ position: 'absolute', left: 0, top: 0, width: 1089, height: 1093, background: '#ffffff' }}
    />
  );
}
